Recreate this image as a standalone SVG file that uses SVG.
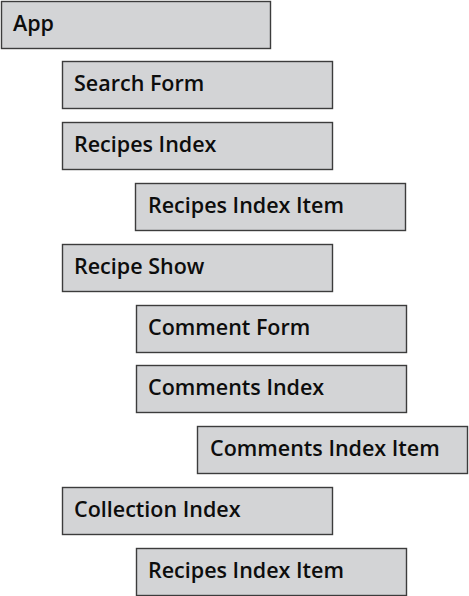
<svg xmlns="http://www.w3.org/2000/svg" width="469" height="596" viewBox="0 0 469 596">
<style>
.box{fill:#d3d4d6;stroke:#3c3c3c;stroke-width:1.4}
.lbl{font-family:"Open Sans","Liberation Sans",sans-serif;font-weight:600;font-size:21.5px;fill:#0d0d0d}
</style>
<rect width="469" height="596" fill="#ffffff"/>
<g id="connectors"></g>
<g id="app"><rect class="box" x="1.5" y="1.5" width="269" height="47"/><text class="lbl" x="13" y="31">App</text></g>
<g id="search-form"><rect class="box" x="62.5" y="61.5" width="270" height="47"/><text class="lbl" x="74" y="91">Search Form</text></g>
<g id="recipes-index"><rect class="box" x="62.5" y="122.5" width="270" height="47"/><text class="lbl" x="74" y="152">Recipes Index</text></g>
<g id="recipes-index-item-1"><rect class="box" x="135.5" y="183.5" width="270" height="47"/><text class="lbl" x="148" y="212.5">Recipes Index Item</text></g>
<g id="recipe-show"><rect class="box" x="62.5" y="244.5" width="270" height="47"/><text class="lbl" x="74" y="273.5">Recipe Show</text></g>
<g id="comment-form"><rect class="box" x="136.5" y="305.5" width="270" height="47"/><text class="lbl" x="148" y="335">Comment Form</text></g>
<g id="comments-index"><rect class="box" x="136.5" y="365.5" width="270" height="47"/><text class="lbl" x="148" y="395">Comments Index</text></g>
<g id="comments-index-item"><rect class="box" x="197.5" y="426.5" width="270" height="47"/><text class="lbl" x="210" y="456">Comments Index Item</text></g>
<g id="collection-index"><rect class="box" x="62.5" y="487.5" width="270" height="47"/><text class="lbl" x="74" y="517">Collection Index</text></g>
<g id="recipes-index-item-2"><rect class="box" x="136.5" y="548.5" width="270" height="47"/><text class="lbl" x="148" y="578">Recipes Index Item</text></g>
</svg>
